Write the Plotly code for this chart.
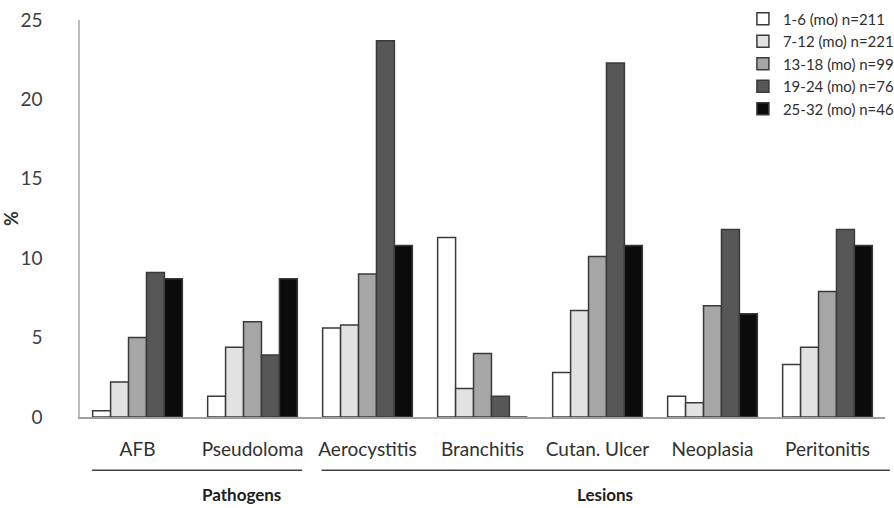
import plotly.graph_objects as go

categories = ["AFB", "Pseudoloma", "Aerocystitis", "Branchitis", "Cutan. Ulcer", "Neoplasia", "Peritonitis"]
series_names = ["1-6 (mo) n=211", "7-12 (mo) n=221", "13-18 (mo) n=99", "19-24 (mo) n=76", "25-32 (mo) n=46"]
s1 = [0.4, 1.3, 5.6, 11.3, 2.8, 1.3, 3.3]
s2 = [2.2, 4.4, 5.8, 1.8, 6.7, 0.9, 4.4]
s3 = [5.0, 6.0, 9.0, 4.0, 10.1, 7.0, 7.9]
s4 = [9.1, 3.9, 23.7, 1.3, 22.3, 11.8, 11.8]
s5 = [8.7, 8.7, 10.8, 0.0, 10.8, 6.5, 10.8]
series_values = [s1, s2, s3, s4, s5]
colors = ["#ffffff", "#e2e2e2", "#a6a6a6", "#575757", "#0b0b0b"]
y_ticks = [0, 5, 10, 15, 20, 25]

FONT = "Lato, Open Sans, sans-serif"

fig = go.Figure()
for name, vals, col in zip(series_names, series_values, colors):
    fig.add_trace(go.Bar(
        x=categories, y=vals, name=name,
        marker=dict(color=col, line=dict(color="#3a3a3a", width=1.5)),
    ))

fig.update_layout(
    width=894, height=508,
    margin=dict(l=80, r=9, t=20, b=91, autoexpand=False),
    plot_bgcolor="white", paper_bgcolor="white",
    barmode="group", bargap=0.22, bargroupgap=0,
    font=dict(family=FONT, color="#404040", size=16),
    showlegend=True,
    legend=dict(
        xref="container", yref="container",
        x=0.831, y=0.995, xanchor="left", yanchor="top",
        font=dict(family=FONT, size=15, color="#303030"),
        bgcolor="rgba(0,0,0,0)", tracegroupgap=0, itemwidth=30,
    ),
    xaxis=dict(
        showline=True, linecolor="#a0a0a0", linewidth=1.5,
        ticks="", ticklabelstandoff=14, showgrid=False,
        tickfont=dict(family=FONT, size=19, color="#303030"),
    ),
    yaxis=dict(
        range=[0, 25], tickvals=y_ticks, showline=True, linecolor="#bdbdbd", linewidth=1.5,
        ticks="", showgrid=False, zeroline=False, ticklabelstandoff=32,
        tickfont=dict(family=FONT, size=19, color="#404040"),
        title=dict(text="<b>%</b>", font=dict(family=FONT, size=18, color="#303030"), standoff=0),
    ),
)

# group underline lines and labels
fig.add_shape(type="line", xref="paper", yref="paper", x0=0.015, x1=0.276, y0=-0.134, y1=-0.134,
              line=dict(color="#404040", width=1.5))
fig.add_shape(type="line", xref="paper", yref="paper", x0=0.300, x1=1.006, y0=-0.134, y1=-0.134,
              line=dict(color="#404040", width=1.5))
fig.add_annotation(text="<b>Pathogens</b>", xref="paper", yref="paper", x=0.149, y=-0.196,
                   showarrow=False, font=dict(family=FONT, size=17, color="#202020"), yanchor="middle")
fig.add_annotation(text="<b>Lesions</b>", xref="paper", yref="paper", x=0.652, y=-0.196,
                   showarrow=False, font=dict(family=FONT, size=17, color="#202020"), yanchor="middle")

fig.write_html("out.html", config={"displayModeBar": False},
               post_script="document.body.style.margin='0';document.body.style.padding='0';")
